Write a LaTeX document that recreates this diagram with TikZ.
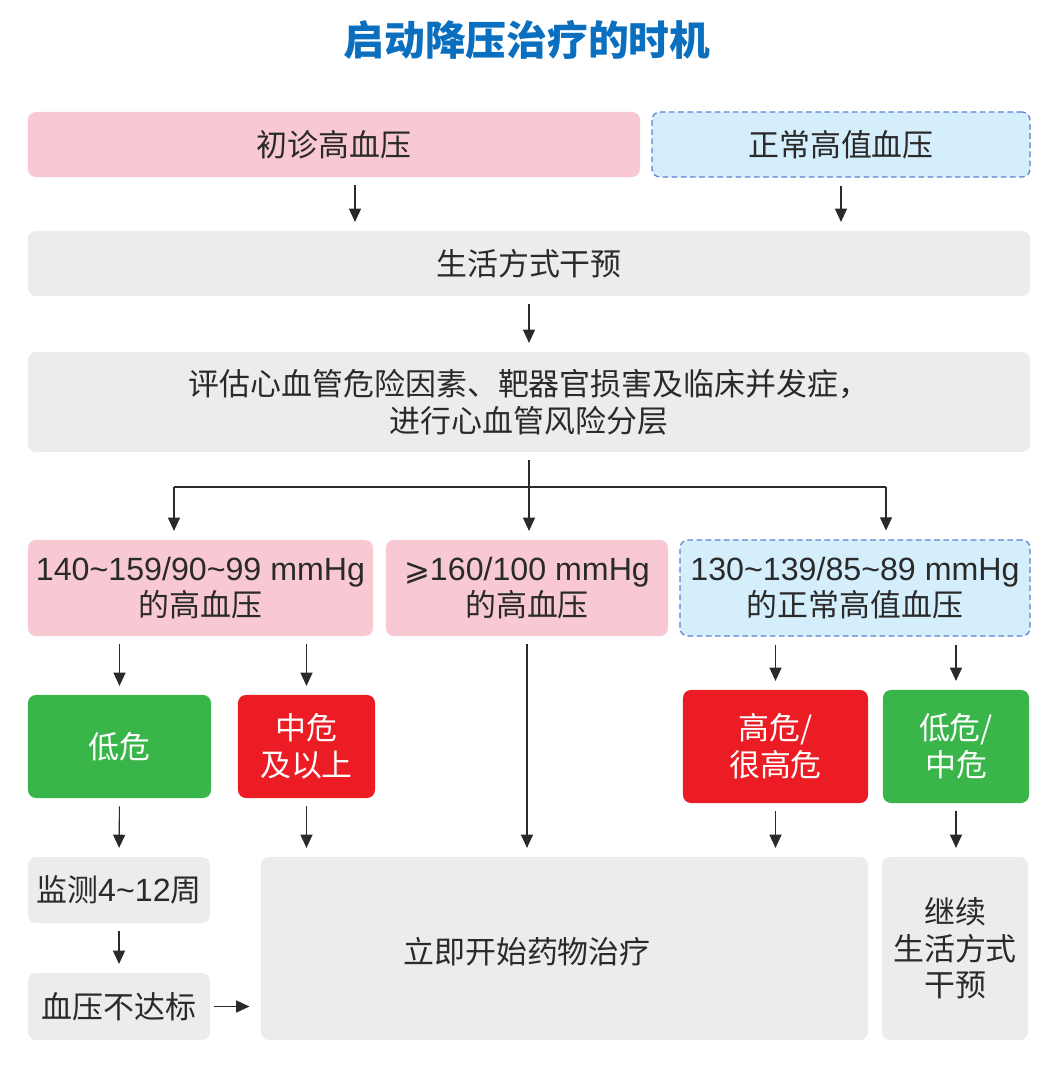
\documentclass[tikz,border=0pt]{standalone}
\usepackage{fontspec}
\setmainfont{Liberation Sans}
\newfontfamily\cjk{Noto Sans CJK SC}
\newfontfamily\lat[Scale=1.04]{Liberation Sans}
\newfontfamily\sym{DejaVu Sans}
\usetikzlibrary{arrows.meta}
\definecolor{rose}{HTML}{F8C9D3}
\definecolor{bleuclair}{HTML}{D4EEFB}
\definecolor{bleubord}{HTML}{5B80D6}
\definecolor{gris}{HTML}{ECECEC}
\definecolor{rouge}{HTML}{EC1C24}
\definecolor{vert}{HTML}{3AB54A}
\definecolor{titre}{HTML}{0B6FC0}
\definecolor{trait}{HTML}{2A2A2A}
\tikzset{
  boite/.style={rounded corners=0.2cm, align=center, inner sep=1pt, text=trait,
    font=\cjk\fontsize{22}{26}\selectfont},
  hta/.style={boite, fill=rose},
  normal/.style={boite, fill=bleuclair, draw=bleubord, line width=0.9pt, dash pattern=on 4pt off 2.5pt},
  neutre/.style={boite, fill=gris},
  danger/.style={boite, fill=rouge, text=white},
  faible/.style={boite, fill=vert, text=white},
  fleche/.style={draw=trait, line width=0.8pt, -{Triangle[length=0.33cm,width=0.3cm]}, shorten >=0.22cm},
  depart/.style={shorten <=0.2cm}
}
\begin{document}
\begin{tikzpicture}[x=0.025cm, y=-0.025cm]
		\useasboundingbox (0,0) rectangle (1054,1067);
		%Titre
		\node (T) at (527,40) {\cjk\bfseries\fontsize{29}{32}\selectfont\color{titre}启动降压治疗的时机};
		%Noeuds du diagramme
		\node[hta, minimum width=15.3cm, minimum height=1.625cm] (A) at (334,144.5) {初诊高血压};
		\node[normal, minimum width=9.45cm, minimum height=1.625cm] (B) at (841,144.5) {正常高值血压};
		\node[neutre, minimum width=25.05cm, minimum height=1.625cm] (C) at (529,263.5) {生活方式干预};
		\node[neutre, minimum width=25.05cm, minimum height=2.5cm] (D) at (529,402) {评估心血管危险因素、靶器官损害及临床并发症，\\进行心血管风险分层};
		\node[hta, minimum width=8.625cm, minimum height=2.4cm] (E1) at (200.5,588) {{\lat 140\textasciitilde159/90\textasciitilde99 mmHg}\\的高血压};
		\node[hta, minimum width=7.05cm, minimum height=2.4cm] (E2) at (527,588) {{\sym ⩾}{\lat 160/100 mmHg}\\的高血压};
		\node[normal, minimum width=8.75cm, minimum height=2.4cm] (E3) at (855,588) {{\lat 130\textasciitilde139/85\textasciitilde89 mmHg}\\的正常高值血压};
		\node[faible, minimum width=4.575cm, minimum height=2.575cm] (F1) at (119.5,746.5) {低危};
		\node[danger, minimum width=3.425cm, minimum height=2.575cm] (F2) at (306.5,746.5) {中危\\及以上};
		\node[danger, minimum width=4.625cm, minimum height=2.825cm] (F3) at (775.5,746.5) {高危/\\很高危};
		\node[faible, minimum width=3.65cm, minimum height=2.825cm] (F4) at (956,746.5) {低危/\\中危};
		\node[neutre, minimum width=4.55cm, minimum height=1.65cm] (G1) at (119,890) {监测{\lat 4\textasciitilde12}周};
		\node[neutre, minimum width=4.55cm, minimum height=1.675cm] (G2) at (119,1006.5) {血压不达标};
		\node[neutre, minimum width=15.175cm, minimum height=4.575cm] (H) at (564.5,948.5) {};
		\node[boite] (Htexte) at (527,952) {立即开始药物治疗};
		\node[neutre, minimum width=3.65cm, minimum height=4.575cm] (I) at (955,948.5) {继续\\生活方式\\干预};
		%Points de branchement
		\coordinate (a) at (355,177);
		\coordinate (g) at (174,487);
		\coordinate (d) at (886,487);
		%Flèches
		\draw[fleche,depart] (a) -- (a |- C.north);
		\draw[fleche,depart] (B.south) -- (B.south |- C.north);
		\draw[fleche,depart] (C.south) -- (D.north);
		\draw[fleche,depart] (D.south) -- (D.south |- E2.north);
		\draw[trait, line width=0.8pt] (g) -- (d);
		\draw[fleche] (g) -- (g |- E1.north);
		\draw[fleche] (d) -- (d |- E3.north);
		\draw[fleche,depart] (E1.south -| F1.north) -- (F1.north);
		\draw[fleche,depart] (E1.south -| F2.north) -- (F2.north);
		\draw[fleche,depart] (E3.south -| F3.north) -- (F3.north);
		\draw[fleche,depart] (E3.south -| F4.north) -- (F4.north);
		\draw[fleche,depart] (E2.south) -- (E2.south |- H.north);
		\draw[fleche,depart] (F1.south) -- (G1.north);
		\draw[fleche,depart] (F2.south) -- (F2.south |- H.north);
		\draw[fleche,depart] (F3.south) -- (F3.south |- H.north);
		\draw[fleche,depart] (F4.south) -- (F4.south |- I.north);
		\draw[fleche,depart] (G1.south) -- (G2.north);
		\draw[fleche,shorten <=0.1cm,shorten >=0.28cm] (G2.east) -- (G2.east -| H.west);
\end{tikzpicture}
\end{document}
